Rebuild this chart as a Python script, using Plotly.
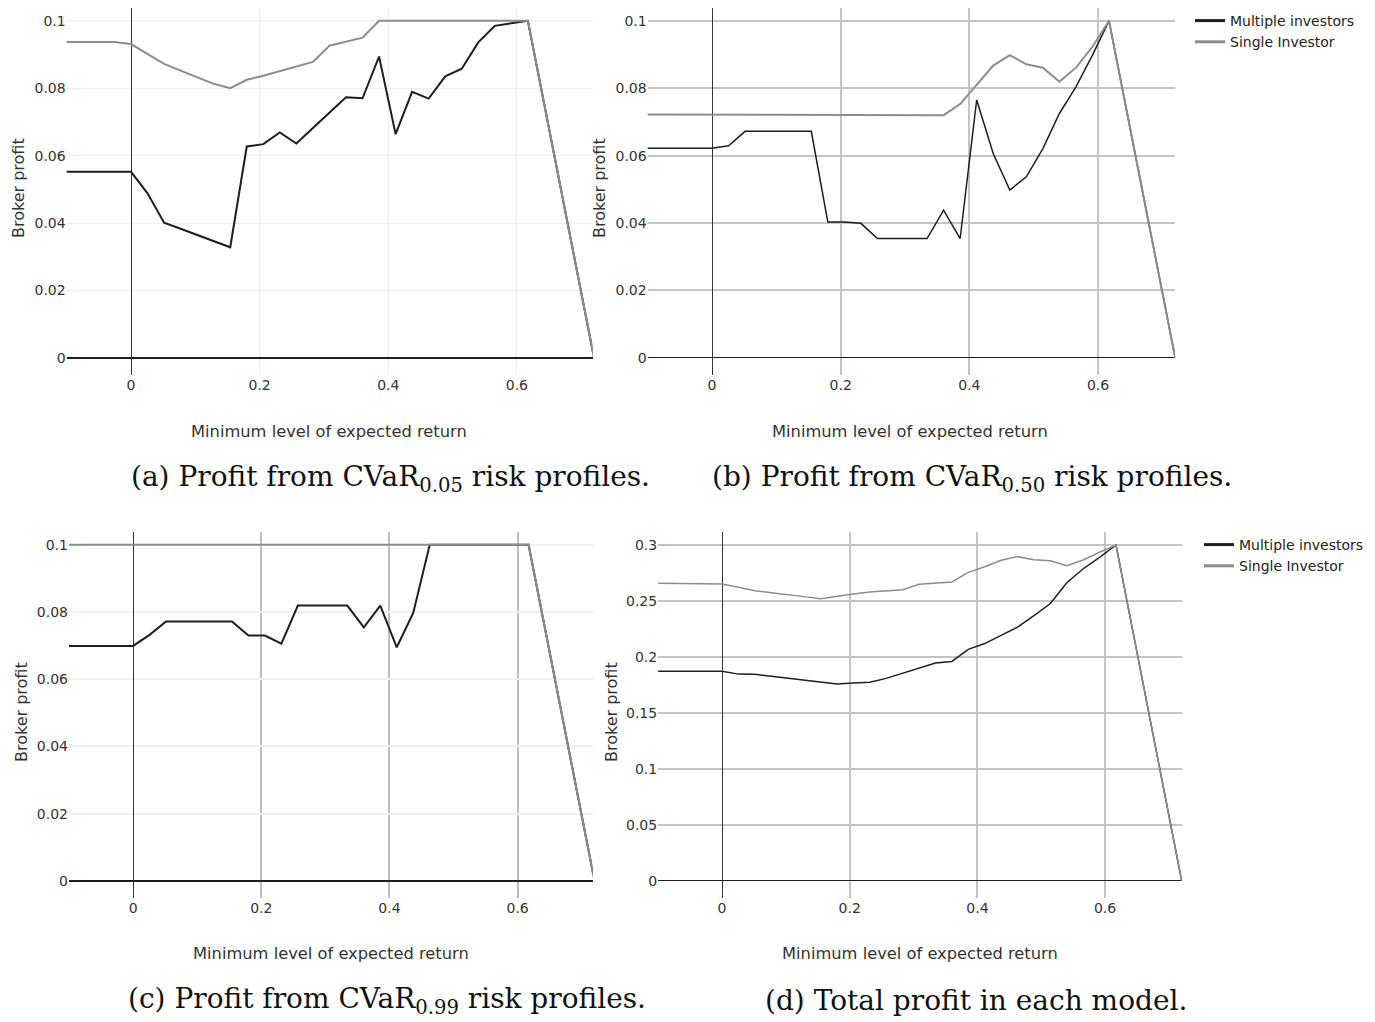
import plotly.graph_objects as go

# Minimum level of expected return (x values shared by all panels)
x_return = [-0.1029, -0.0771, -0.0514, -0.0257, 0.0, 0.0257, 0.0514, 0.0771, 0.1029, 0.1286,
            0.1543, 0.1800, 0.2057, 0.2314, 0.2571, 0.2829, 0.3086, 0.3343, 0.3600, 0.3857,
            0.4114, 0.4371, 0.4629, 0.4886, 0.5143, 0.5400, 0.5657, 0.5914, 0.6171, 0.7200]

# (a) CVaR 0.05
a_multiple = [0.0552, 0.0552, 0.0552, 0.0552, 0.0552, 0.0488, 0.0401, 0.0383, 0.0365, 0.0346,
              0.0328, 0.0627, 0.0634, 0.0669, 0.0636, 0.0682, 0.0727, 0.0773, 0.0770, 0.0894,
              0.0664, 0.0789, 0.0769, 0.0835, 0.0858, 0.0936, 0.0985, 0.0992, 0.1000, 0.0]
a_single = [0.0937, 0.0937, 0.0937, 0.0937, 0.0931, 0.0902, 0.0872, 0.0852, 0.0833, 0.0813,
            0.0800, 0.0825, 0.0837, 0.0850, 0.0864, 0.0878, 0.0926, 0.0939, 0.0950, 0.1000,
            0.1000, 0.0999, 0.0998, 0.0998, 0.0999, 0.1000, 0.1000, 0.1000, 0.1000, 0.0]

# (b) CVaR 0.50
b_multiple = [0.0622, 0.0622, 0.0622, 0.0622, 0.0622, 0.0629, 0.0672, 0.0672, 0.0672, 0.0672,
              0.0672, 0.0403, 0.0403, 0.0399, 0.0354, 0.0354, 0.0354, 0.0354, 0.0438, 0.0354,
              0.0765, 0.0606, 0.0498, 0.0537, 0.0621, 0.0725, 0.0804, 0.0898, 0.1000, 0.0]
b_single = [0.0722, 0.0722, 0.0722, 0.0722, 0.0722, 0.0722, 0.0722, 0.0722, 0.0722, 0.0722,
            0.0722, 0.0722, 0.0722, 0.0722, 0.0722, 0.0722, 0.0722, 0.0722, 0.0720, 0.0753,
            0.0809, 0.0867, 0.0898, 0.0871, 0.0861, 0.0819, 0.0861, 0.0923, 0.1000, 0.0]

# (c) CVaR 0.99
c_multiple = [0.0699, 0.0699, 0.0699, 0.0699, 0.0699, 0.0732, 0.0772, 0.0772, 0.0772, 0.0772,
              0.0772, 0.0730, 0.0730, 0.0706, 0.0819, 0.0819, 0.0819, 0.0819, 0.0754, 0.0819,
              0.0695, 0.0797, 0.1000, 0.1000, 0.1000, 0.1000, 0.1000, 0.1000, 0.1000, 0.0]
c_single = [0.1000, 0.1000, 0.1000, 0.1000, 0.1000, 0.1000, 0.1000, 0.1000, 0.1000, 0.1000,
            0.1000, 0.1000, 0.1000, 0.1000, 0.1000, 0.1000, 0.1000, 0.1000, 0.1000, 0.1000,
            0.1000, 0.1000, 0.1000, 0.1000, 0.1000, 0.1000, 0.1000, 0.1000, 0.1000, 0.0]

# (d) Total
d_multiple = [0.1872, 0.1872, 0.1872, 0.1872, 0.1872, 0.1847, 0.1845, 0.1827, 0.1809, 0.1790,
              0.1772, 0.1758, 0.1767, 0.1774, 0.1809, 0.1855, 0.1900, 0.1946, 0.1960, 0.2068,
              0.2120, 0.2193, 0.2267, 0.2370, 0.2477, 0.2663, 0.2788, 0.2890, 0.3000, 0.0]
d_single = [0.2658, 0.2658, 0.2658, 0.2658, 0.2652, 0.2622, 0.2592, 0.2574, 0.2554, 0.2539,
            0.2521, 0.2545, 0.2563, 0.2580, 0.2592, 0.2601, 0.2649, 0.2661, 0.2670, 0.2756,
            0.2806, 0.2863, 0.2896, 0.2869, 0.2860, 0.2815, 0.2866, 0.2935, 0.3000, 0.0]

series_names = ["Multiple investors", "Single Investor"]
captions = ["(a) Profit from CVaR<sub>0.05</sub> risk profiles.",
            "(b) Profit from CVaR<sub>0.50</sub> risk profiles.",
            "(c) Profit from CVaR<sub>0.99</sub> risk profiles.",
            "(d) Total profit in each model."]
x_title = "Minimum level of expected return"
y_title = "Broker profit"

W, H = 1375, 1022
BLACK = "#1e1e1e"
GREY = "#8c8c8c"
TICKFONT = dict(family="DejaVu Sans", size=14, color="#333333")


def px_x(p):
    return p / W


def px_y(p):
    return 1 - p / H


fig = go.Figure()

panels = [
    dict(m=a_multiple, s=a_single, ax="", xd=(66.7, 592.5), yd=(8, 375), leg=None, wm=2, ws=2,
         xr=[-0.1, 0.7176], yr=[-0.0051, 0.1038], dt=0.02,
         xg="#eeeeee", xgw=1, yg="#eeeeee", ygw=1, yz=2),
    dict(m=b_multiple, s=b_single, ax="2", xd=(647.7, 1175.2), yd=(8, 375), leg="legend", wm=1.5, ws=2,
         xr=[-0.1, 0.72], yr=[-0.0051, 0.1038], dt=0.02,
         xg="#c4c4c4", xgw=2, yg="#c4c4c4", ygw=2, yz=1),
    dict(m=c_multiple, s=c_single, ax="3", xd=(69, 592.6), yd=(532, 898), leg=None, wm=2, ws=2,
         xr=[-0.1, 0.717], yr=[-0.0051, 0.1038], dt=0.02,
         xg="#bdbdbd", xgw=2, yg="#f0f0f0", ygw=1.5, yz=2),
    dict(m=d_multiple, s=d_single, ax="4", xd=(658.2, 1181.7), yd=(532, 898), leg="legend2", wm=1.5, ws=1.5,
         xr=[-0.1, 0.72], yr=[-0.0152, 0.3116], dt=0.05,
         xg="#c4c4c4", xgw=2, yg="#c4c4c4", ygw=2, yz=1),
]

layout_axes = {}
for p in panels:
    xa = "x" + p["ax"]
    ya = "y" + p["ax"]
    fig.add_trace(go.Scatter(x=x_return, y=p["m"], mode="lines", name=series_names[0],
                             line=dict(color=BLACK, width=p["wm"]), xaxis=xa, yaxis=ya,
                             showlegend=False))
    fig.add_trace(go.Scatter(x=x_return, y=p["s"], mode="lines", name=series_names[1],
                             line=dict(color=GREY, width=p["ws"]), xaxis=xa, yaxis=ya,
                             showlegend=False))
    if p["leg"] is not None:
        # legend-only entries (thicker sample lines as in the reference legend)
        for nm, col in zip(series_names, [BLACK, GREY]):
            fig.add_trace(go.Scatter(x=[None], y=[None], mode="lines", name=nm,
                                     line=dict(color=col, width=3), xaxis=xa, yaxis=ya,
                                     showlegend=True, legend=p["leg"], hoverinfo="skip"))
    layout_axes["xaxis" + p["ax"]] = dict(
        domain=[px_x(p["xd"][0]), px_x(p["xd"][1])], anchor=ya, range=p["xr"],
        dtick=0.2, tick0=0, showgrid=True, gridcolor=p["xg"], gridwidth=p["xgw"],
        zeroline=True, zerolinecolor="#333333", zerolinewidth=1,
        showline=False, ticks="", tickfont=TICKFONT)
    layout_axes["yaxis" + p["ax"]] = dict(
        domain=[px_y(p["yd"][1]), px_y(p["yd"][0])], anchor=xa, range=p["yr"],
        dtick=p["dt"], tick0=0, showgrid=True, gridcolor=p["yg"], gridwidth=p["ygw"],
        zeroline=True, zerolinecolor="#1e1e1e", zerolinewidth=p["yz"],
        showline=False, ticks="", tickfont=TICKFONT)

annotations = []
for cx, cy in [(329, 431), (910, 431), (331, 953), (920, 953)]:
    annotations.append(dict(text=x_title, x=px_x(cx), y=px_y(cy), xref="paper", yref="paper",
                            xanchor="center", yanchor="middle", showarrow=False,
                            font=dict(family="DejaVu Sans", size=16.3, color="#333333")))
for cx, cy in [(18, 188), (599, 188), (21, 712), (611, 712)]:
    annotations.append(dict(text=y_title, x=px_x(cx), y=px_y(cy), xref="paper", yref="paper",
                            xanchor="center", yanchor="middle", showarrow=False, textangle=-90,
                            font=dict(family="DejaVu Sans", size=16, color="#333333")))
for txt, (cx, cy) in zip(captions, [(390, 478), (972, 478), (387, 1000), (976, 1000)]):
    annotations.append(dict(text=txt, x=px_x(cx), y=px_y(cy), xref="paper", yref="paper",
                            xanchor="center", yanchor="middle", showarrow=False,
                            font=dict(family="DejaVu Serif", size=28, color="#111111")))

legend_style = dict(font=dict(family="DejaVu Sans", size=14, color="#222222"),
                    bgcolor="rgba(255,255,255,0)", xanchor="left", yanchor="top",
                    tracegroupgap=0)

fig.update_layout(
    width=W, height=H, margin=dict(l=0, r=0, t=0, b=0),
    paper_bgcolor="white", plot_bgcolor="white",
    showlegend=True,
    legend=dict(x=px_x(1190), y=px_y(5), **legend_style),
    legend2=dict(x=px_x(1199), y=px_y(529), **legend_style),
    annotations=annotations,
    **layout_axes,
)

fig.write_html("out.html")
